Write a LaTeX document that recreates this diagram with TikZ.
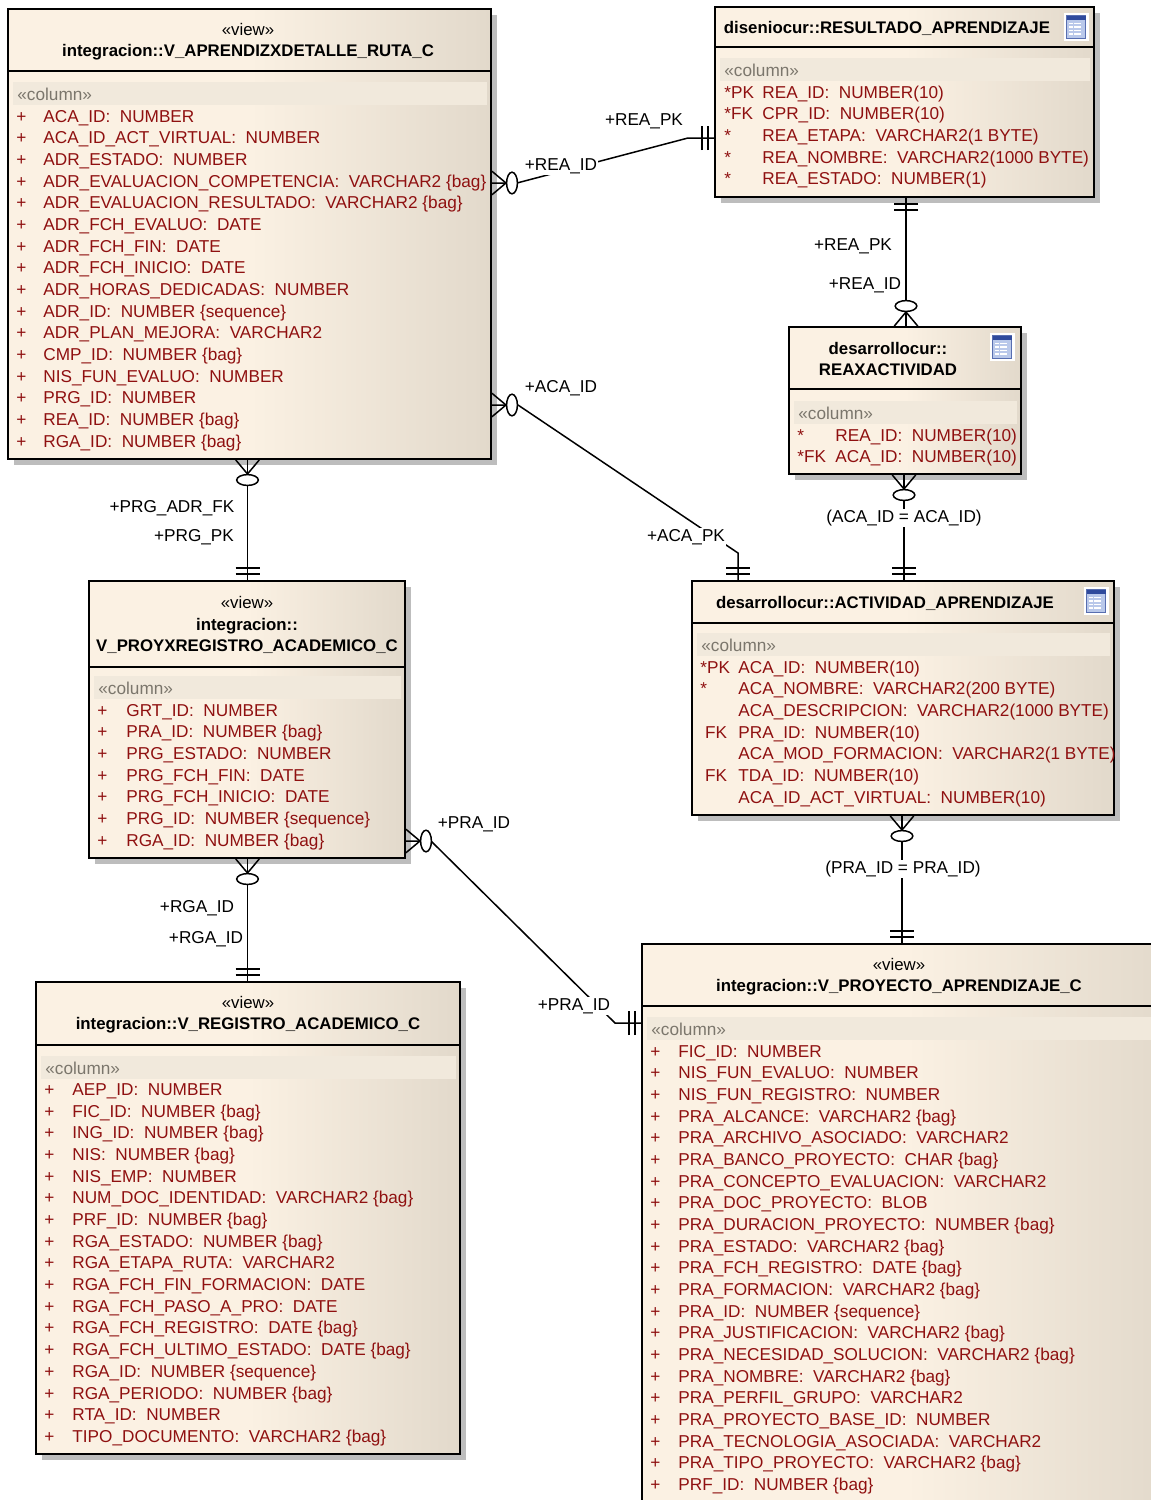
\documentclass[tikz,border=0pt]{standalone}
\usepackage{fontspec}
\setmainfont{Liberation Sans}
\usetikzlibrary{fit,shadows}
\definecolor{boxcream}{HTML}{FBF1E3}
\definecolor{boxtan}{HTML}{E2D9CB}
\definecolor{bandtan}{HTML}{F1E9DC}
\definecolor{shadowgrey}{HTML}{BDBDBD}
\definecolor{rowred}{HTML}{8F1010}
\definecolor{bandgrey}{HTML}{7B766C}
\definecolor{iconblue}{HTML}{2F4A9C}
\definecolor{iconpale}{HTML}{B9C8EA}
\tikzset{
  tablebox/.style={draw, line width=1pt, inner sep=0pt, left color=boxcream, right color=boxtan, middle color=boxcream,
    drop shadow={shadow xshift=3pt, shadow yshift=-3pt, opacity=1, fill=shadowgrey}},
  titletext/.style={inner sep=0pt, align=center, font=\fontsize{8.4}{10.6}\selectfont},
  coltext/.style={inner sep=0pt, anchor=base west, text=rowred, font=\fontsize{8.6}{10.6}\selectfont},
  bandtext/.style={inner sep=0pt, anchor=base west, text=bandgrey, font=\fontsize{8.6}{10.6}\selectfont},
  rolelabel/.style={inner sep=0.5pt, fill=white, font=\fontsize{8.6}{10.6}\selectfont},
  connector/.style={line width=0.75pt},
  pics/zeromany/.style={code={
    \draw[connector] (0,11.7) -- (14,0) -- (0,-11.7);
    \draw[connector, fill=white] (20,0) ellipse [x radius=5.4, y radius=10.8];
  }},
  pics/oneonly/.style={code={
    \draw[connector] (6,-12) -- (6,12);
    \draw[connector] (12,-12) -- (12,12);
  }},
  pics/tableicon/.style={code={
    \fill[white] (-12.5,-14) rectangle (12.5,14);
    \draw[iconblue!80, line width=0.5pt, fill=iconpale] (-9.5,-11.5) rectangle (9.5,11.5);
    \fill[iconblue] (-9.5,-11.5) rectangle (9.5,-7.5);
    \foreach \iconrow in {-4.5,-1,2.5,6}
      \fill[white] (-7.5,\iconrow) rectangle (5,\iconrow+1.8);
    \draw[iconpale, line width=0.3pt] (-3,-5) -- (-3,8.5);
  }},
}
% box corners, line under the title and the band of the stereotype
\newcommand{\dbtable}[7]{%
  \node[tablebox, fit={(#2,#3) (#4,#5)}] (#1) {};
  \draw[line width=1pt] (#1.west |- 0,#6) -- (#1.east |- 0,#6);
  \fill[bandtan] (#2+5,#7-12) rectangle (#4-4,#7+11);
  \node[bandtext] (#1-band) at (#2+9,#7+6) {«column»};
}
\newcommand{\plusrows}[5]{%
  \foreach \coltitle [count=\i from 0] in {#5} {
    \node[coltext] (#1-mark\i) at (#2,#4+6+21.68*\i) {+};
    \node[coltext] (#1-row\i) at (#3,#4+6+21.68*\i) {\coltitle};
  }
}
\newcommand{\keyrows}[5]{%
  \foreach \colmark/\coltitle [count=\i from 0] in {#5} {
    \node[coltext] (#1-mark\i) at (#2,#4+6+21.68*\i) {\colmark};
    \node[coltext] (#1-row\i) at (#3,#4+6+21.68*\i) {\coltitle};
  }
}
\begin{document}
\begin{tikzpicture}[x=0.5pt,y=-0.5pt]
\clip (0,0) rectangle (1151,1500);

% tables
\dbtable{ruta}{8}{9}{491}{459}{70.5}{94}
\node[titletext] (ruta-title) at (248,41.5) {«view»\\\textbf{integracion::V\_APRENDIZXDETALLE\_RUTA\_C}};
\plusrows{ruta}{16}{43}{116}{ACA\_ID:~ NUMBER, ACA\_ID\_ACT\_VIRTUAL:~ NUMBER, ADR\_ESTADO:~ NUMBER,
  ADR\_EVALUACION\_COMPETENCIA:~ VARCHAR2 \{bag\}, ADR\_EVALUACION\_RESULTADO:~ VARCHAR2 \{bag\},
  ADR\_FCH\_EVALUO:~ DATE, ADR\_FCH\_FIN:~ DATE, ADR\_FCH\_INICIO:~ DATE, ADR\_HORAS\_DEDICADAS:~ NUMBER,
  ADR\_ID:~ NUMBER \{sequence\}, ADR\_PLAN\_MEJORA:~ VARCHAR2, CMP\_ID:~ NUMBER \{bag\},
  NIS\_FUN\_EVALUO:~ NUMBER, PRG\_ID:~ NUMBER, REA\_ID:~ NUMBER \{bag\}, RGA\_ID:~ NUMBER \{bag\}}

\dbtable{resultado}{715}{7}{1094}{197}{47}{70}
\node[titletext] (resultado-title) at (887,28) {\textbf{diseniocur::RESULTADO\_APRENDIZAJE}};
\pic at (1076,27) {tableicon};
\keyrows{resultado}{724}{762}{92}{*PK/REA\_ID:~ NUMBER(10), *FK/CPR\_ID:~ NUMBER(10), */REA\_ETAPA:~ VARCHAR2(1 BYTE),
  */REA\_NOMBRE:~ VARCHAR2(1000 BYTE), */REA\_ESTADO:~ NUMBER(1)}

\dbtable{reaxact}{789}{327}{1021}{474}{389}{413}
\node[titletext] (reaxact-title) at (888,359) {\textbf{desarrollocur::}\\\textbf{REAXACTIVIDAD}};
\pic at (1002,347) {tableicon};
\keyrows{reaxact}{797}{835}{435}{*/REA\_ID:~ NUMBER(10), *FK/ACA\_ID:~ NUMBER(10)}

\dbtable{actividad}{692}{581}{1114}{815}{623}{645}
\node[titletext] (actividad-title) at (885,603) {\textbf{desarrollocur::ACTIVIDAD\_APRENDIZAJE}};
\pic at (1096,601) {tableicon};
\keyrows{actividad}{700}{738}{667}{*PK/ACA\_ID:~ NUMBER(10), */ACA\_NOMBRE:~ VARCHAR2(200 BYTE),
  /ACA\_DESCRIPCION:~ VARCHAR2(1000 BYTE), ~FK/PRA\_ID:~ NUMBER(10), /ACA\_MOD\_FORMACION:~ VARCHAR2(1 BYTE),
  ~FK/TDA\_ID:~ NUMBER(10), /ACA\_ID\_ACT\_VIRTUAL:~ NUMBER(10)}

\dbtable{registro}{89}{581}{405}{858}{667}{688}
\node[titletext] (registro-title) at (247,625) {«view»\\\textbf{integracion::}\\\textbf{V\_PROYXREGISTRO\_ACADEMICO\_C}};
\plusrows{registro}{97}{126}{710}{GRT\_ID:~ NUMBER, PRA\_ID:~ NUMBER \{bag\}, PRG\_ESTADO:~ NUMBER,
  PRG\_FCH\_FIN:~ DATE, PRG\_FCH\_INICIO:~ DATE, PRG\_ID:~ NUMBER \{sequence\}, RGA\_ID:~ NUMBER \{bag\}}

\dbtable{academico}{36}{982}{460}{1454}{1045}{1068}
\node[titletext] (academico-title) at (248,1015) {«view»\\\textbf{integracion::V\_REGISTRO\_ACADEMICO\_C}};
\plusrows{academico}{44}{72}{1089.5}{AEP\_ID:~ NUMBER, FIC\_ID:~ NUMBER \{bag\}, ING\_ID:~ NUMBER \{bag\}, NIS:~ NUMBER \{bag\},
  NIS\_EMP:~ NUMBER, NUM\_DOC\_IDENTIDAD:~ VARCHAR2 \{bag\}, PRF\_ID:~ NUMBER \{bag\}, RGA\_ESTADO:~ NUMBER \{bag\},
  RGA\_ETAPA\_RUTA:~ VARCHAR2, RGA\_FCH\_FIN\_FORMACION:~ DATE, RGA\_FCH\_PASO\_A\_PRO:~ DATE, RGA\_FCH\_REGISTRO:~ DATE \{bag\},
  RGA\_FCH\_ULTIMO\_ESTADO:~ DATE \{bag\}, RGA\_ID:~ NUMBER \{sequence\}, RGA\_PERIODO:~ NUMBER \{bag\},
  RTA\_ID:~ NUMBER, TIPO\_DOCUMENTO:~ VARCHAR2 \{bag\}}

\dbtable{proyecto}{642}{944}{1170}{1520}{1006}{1029}
\node[titletext] (proyecto-title) at (899,977) {«view»\\\textbf{integracion::V\_PROYECTO\_APRENDIZAJE\_C}};
\plusrows{proyecto}{650}{678}{1051}{FIC\_ID:~ NUMBER, NIS\_FUN\_EVALUO:~ NUMBER, NIS\_FUN\_REGISTRO:~ NUMBER,
  PRA\_ALCANCE:~ VARCHAR2 \{bag\}, PRA\_ARCHIVO\_ASOCIADO:~ VARCHAR2, PRA\_BANCO\_PROYECTO:~ CHAR \{bag\},
  PRA\_CONCEPTO\_EVALUACION:~ VARCHAR2, PRA\_DOC\_PROYECTO:~ BLOB, PRA\_DURACION\_PROYECTO:~ NUMBER \{bag\},
  PRA\_ESTADO:~ VARCHAR2 \{bag\}, PRA\_FCH\_REGISTRO:~ DATE \{bag\}, PRA\_FORMACION:~ VARCHAR2 \{bag\},
  PRA\_ID:~ NUMBER \{sequence\}, PRA\_JUSTIFICACION:~ VARCHAR2 \{bag\}, PRA\_NECESIDAD\_SOLUCION:~ VARCHAR2 \{bag\},
  PRA\_NOMBRE:~ VARCHAR2 \{bag\}, PRA\_PERFIL\_GRUPO:~ VARCHAR2, PRA\_PROYECTO\_BASE\_ID:~ NUMBER,
  PRA\_TECNOLOGIA\_ASOCIADA:~ VARCHAR2, PRA\_TIPO\_PROYECTO:~ VARCHAR2 \{bag\}, PRF\_ID:~ NUMBER \{bag\}}

% connectors
\draw[connector] (ruta.east |- 0,183) -- (517,183) -- (688,138) -- (resultado.west |- 0,138);
\pic at (ruta.east |- 0,183) {zeromany};
\pic[rotate=180] at (resultado.west |- 0,138) {oneonly};
\node[rolelabel] (reaid-a) at (561,166) {+REA\_ID};
\node[rolelabel] (reapk-a) at (644,121) {+REA\_PK};

\draw[connector] (resultado.south -| 906,0) -- (reaxact.north -| 906,0);
\pic[rotate=-90] at (resultado.south -| 906,0) {oneonly};
\pic[rotate=90] at (reaxact.north -| 906,0) {zeromany};
\node[rolelabel] (reapk-b) at (853,246) {+REA\_PK};
\node[rolelabel] (reaid-b) at (865,285) {+REA\_ID};

\draw[connector] (reaxact.south -| 904,0) -- (actividad.north -| 904,0);
\pic[rotate=-90] at (reaxact.south -| 904,0) {zeromany};
\pic[rotate=90] at (actividad.north -| 904,0) {oneonly};
\node[rolelabel] (acaid-eq) at (904,518) {(ACA\_ID = ACA\_ID)};

\draw[connector] (ruta.east |- 0,405) -- (518,405) -- (738,553) -- (actividad.north -| 738,0);
\pic at (ruta.east |- 0,405) {zeromany};
\pic[rotate=90] at (actividad.north -| 738,0) {oneonly};
\node[rolelabel] (acaid-a) at (561,388) {+ACA\_ID};
\node[rolelabel] (acapk-a) at (686,537) {+ACA\_PK};

\draw[connector] (ruta.south -| 247.5,0) -- (registro.north -| 247.5,0);
\pic[rotate=-90] at (ruta.south -| 247.5,0) {zeromany};
\pic[rotate=90] at (registro.north -| 247.5,0) {oneonly};
\node[rolelabel] (prgfk) at (172,508) {+PRG\_ADR\_FK};
\node[rolelabel] (prgpk) at (194,537) {+PRG\_PK};

\draw[connector] (registro.south -| 247.5,0) -- (academico.north -| 247.5,0);
\pic[rotate=-90] at (registro.south -| 247.5,0) {zeromany};
\pic[rotate=90] at (academico.north -| 247.5,0) {oneonly};
\node[rolelabel] (rgaid-a) at (197,908) {+RGA\_ID};
\node[rolelabel] (rgaid-b) at (206,939) {+RGA\_ID};

\draw[connector] (registro.east |- 0,841) -- (431,841) -- (615,1023) -- (proyecto.west |- 0,1023);
\pic at (registro.east |- 0,841) {zeromany};
\pic[rotate=180] at (proyecto.west |- 0,1023) {oneonly};
\node[rolelabel] (praid-a) at (474,824) {+PRA\_ID};
\node[rolelabel] (praid-b) at (574,1006) {+PRA\_ID};

\draw[connector] (actividad.south -| 902,0) -- (proyecto.north -| 902,0);
\pic[rotate=-90] at (actividad.south -| 902,0) {zeromany};
\pic[rotate=90] at (proyecto.north -| 902,0) {oneonly};
\node[rolelabel] (praid-eq) at (903,869) {(PRA\_ID = PRA\_ID)};
\end{tikzpicture}
\end{document}
